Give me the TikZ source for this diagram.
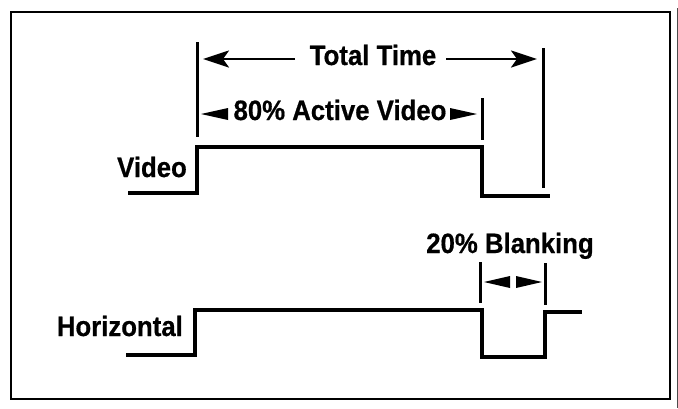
\documentclass[tikz,border=0pt]{standalone}
\usepackage{fontspec}
\setmainfont[FakeStretch=0.92,FakeBold=0.6]{Liberation Sans}
\usetikzlibrary{arrows.meta}
\tikzset{
  lbl/.style={inner sep=0pt, font=\fontsize{28}{32}\selectfont\bfseries},
  wave/.style={line width=3.8pt, line join=miter, line cap=rect},
  tickline/.style={line width=3pt},
  dimarrow/.style={line width=2.6pt, -{Stealth[length=26pt,width=17pt,inset=6pt]}},
  head/.style={fill=black}
}
\begin{document}
\begin{tikzpicture}[x=1pt,y=-1pt]
\useasboundingbox (0,0) rectangle (678,408);
% frame
\draw[line width=2.8pt] (11,12) rectangle (670,399);
\draw[line width=1pt, black!70] (677,8) -- (677,408);

% marker lines
\coordinate (L1t) at (197,42); \coordinate (L1b) at (197,137);
\coordinate (R1t) at (543,48); \coordinate (R1b) at (543,188);
\coordinate (M1t) at (482,98); \coordinate (M1b) at (482,140);
\coordinate (B1t) at (480,262); \coordinate (B1b) at (480,303);
\coordinate (B2t) at (545,263); \coordinate (B2b) at (545,305);
\draw[tickline] (L1t) -- (L1b);
\draw[tickline] (R1t) -- (R1b);
\draw[tickline] (M1t) -- (M1b);
\draw[tickline] (B1t) -- (B1b);
\draw[tickline] (B2t) -- (B2b);

% Total Time
\node[lbl, anchor=base] (tt) at (373,65) {Total Time};
\coordinate (ttL) at (203,59); \coordinate (ttR) at (537,59);
\coordinate (ttLs) at (295,59); \coordinate (ttRs) at (446,59);
\draw[dimarrow] (ttLs) -- (ttL);
\draw[dimarrow] (ttRs) -- (ttR);

% 80% Active Video
\node[lbl, anchor=base] (av) at (340,120) {80\% Active Video};
\fill[head] (201,114) -- (228,108) -- (228,120) -- cycle;
\fill[head] (477,114) -- (450,108) -- (450,120) -- cycle;

% 20% Blanking
\node[lbl, anchor=base] (bl) at (510,253) {20\% Blanking};
\fill[head] (484,282) -- (510,276) -- (510,288) -- cycle;
\fill[head] (542,282) -- (516,276) -- (516,288) -- cycle;

% Video waveform
\node[lbl, anchor=base east] (vid) at (187,177) {Video};
\draw[wave] (130,193) -- (197,193) -- (197,147) -- (482,147) -- (482,196) -- (548,196);

% Horizontal waveform
\node[lbl, anchor=base east] (hor) at (183,336) {Horizontal};
\draw[wave] (128,355) -- (195,355) -- (195,310) -- (482,310) -- (482,357) -- (545,357) -- (545,312) -- (580,312);
\end{tikzpicture}
\end{document}
